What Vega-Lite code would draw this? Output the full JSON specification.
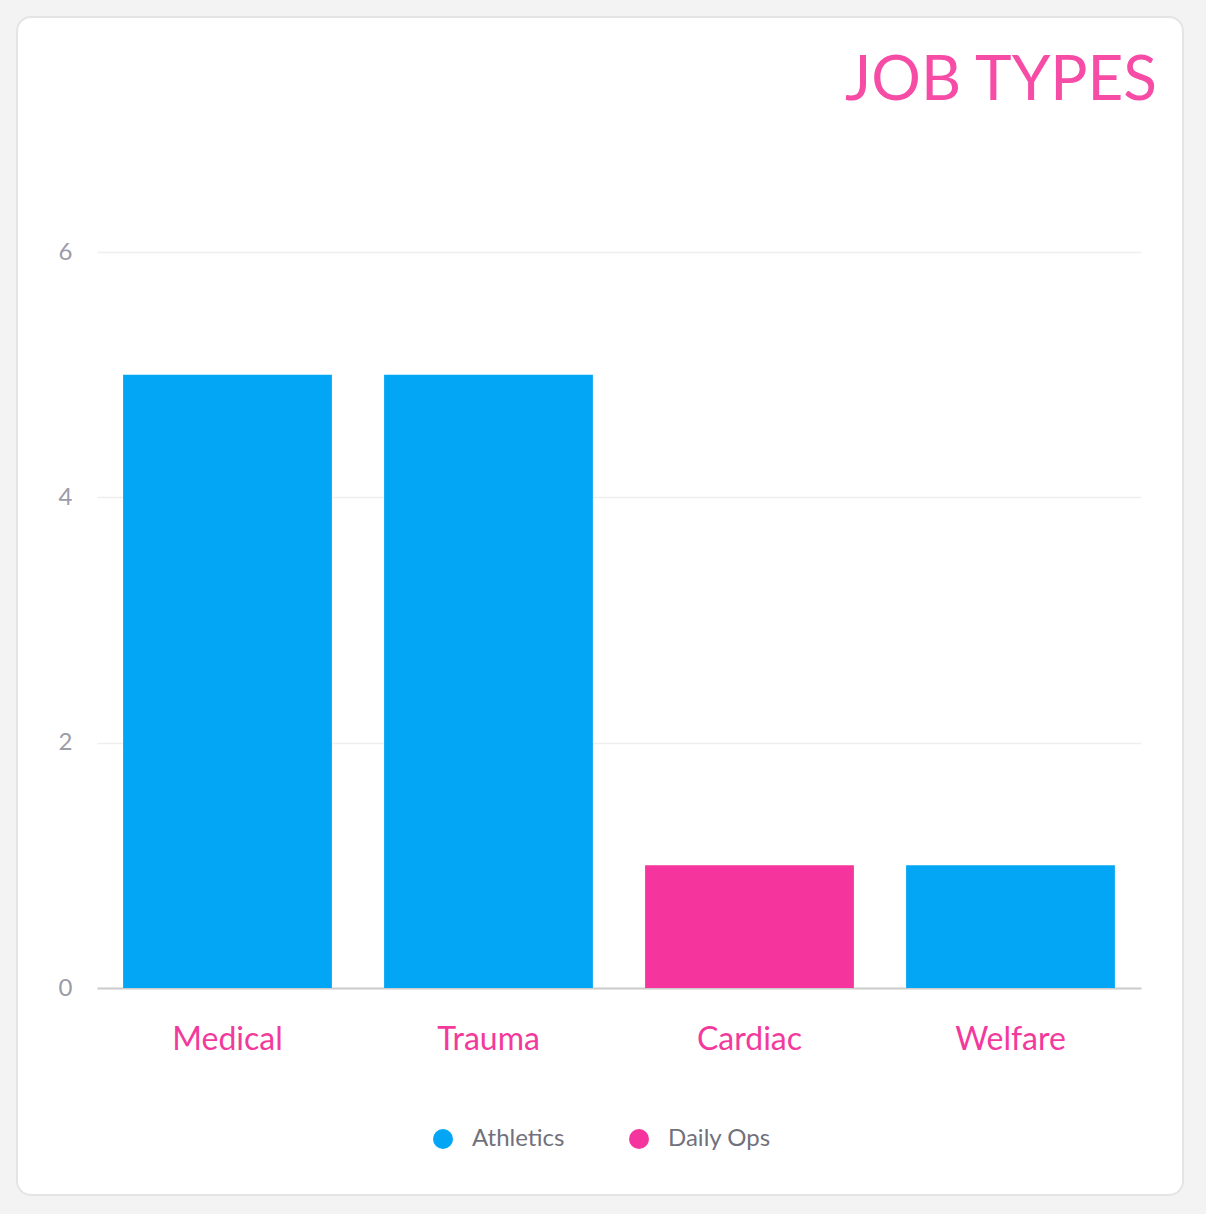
{
  "$schema": "https://vega.github.io/schema/vega-lite/v6.json",
  "description": "Job types bar chart on a rounded card",
  "background": "#f3f3f3",
  "autosize": "none",
  "padding": {"left": 17, "top": 17, "right": 23, "bottom": 19},
  "width": 1166,
  "height": 1178,
  "title": {
    "text": "JOB TYPES",
    "anchor": "end",
    "frame": "group",
    "orient": "top",
    "offset": -96,
    "dx": -26,
    "fontSize": 62,
    "font": "Lato",
    "fontWeight": "normal",
    "color": "#F74CA6"
  },
  "data": {
    "values": [
      {"job": "Medical", "series": "Athletics", "count": 5},
      {"job": "Trauma", "series": "Athletics", "count": 5},
      {"job": "Cardiac", "series": "Daily Ops", "count": 1},
      {"job": "Welfare", "series": "Athletics", "count": 1}
    ]
  },
  "mark": {"type": "bar"},
  "encoding": {
    "x": {
      "field": "job",
      "type": "nominal",
      "sort": null,
      "scale": {"range": [80, 1124], "paddingInner": 0.2, "paddingOuter": 0.1},
      "axis": {
        "title": null,
        "labelAngle": 0,
        "labelFont": "Lato",
        "labelFontSize": 32,
        "labelColor": "#F23A9C",
        "labelPadding": 36,
        "ticks": false,
        "domainColor": "#cccccc",
        "domainWidth": 2,
        "offset": -207
      }
    },
    "y": {
      "field": "count",
      "type": "quantitative",
      "scale": {"domain": [0, 6], "range": [971, 235], "nice": false},
      "axis": {
        "title": null,
        "values": [0, 2, 4, 6],
        "domain": false,
        "ticks": false,
        "labelFont": "Lato",
        "labelFontSize": 24,
        "labelColor": "#9c9ba8",
        "labelPadding": 8,
        "gridColor": "#efefef",
        "gridWidth": 1.5,
        "offset": -63
      }
    },
    "color": {
      "field": "series",
      "type": "nominal",
      "scale": {"domain": ["Athletics", "Daily Ops"], "range": ["#03A6F4", "#F5359D"]},
      "legend": {
        "title": null,
        "orient": "none",
        "direction": "horizontal",
        "legendX": 414,
        "legendY": 1110,
        "symbolType": "circle",
        "symbolSize": 400,
        "symbolStrokeWidth": 0,
        "labelFont": "Lato",
        "labelFontSize": 24,
        "labelColor": "#71717c",
        "labelOffset": 17,
        "columnPadding": 62
      }
    }
  },
  "config": {
    "view": {"fill": "white", "stroke": "#e4e4e4", "strokeWidth": 2, "cornerRadius": 14}
  }
}
